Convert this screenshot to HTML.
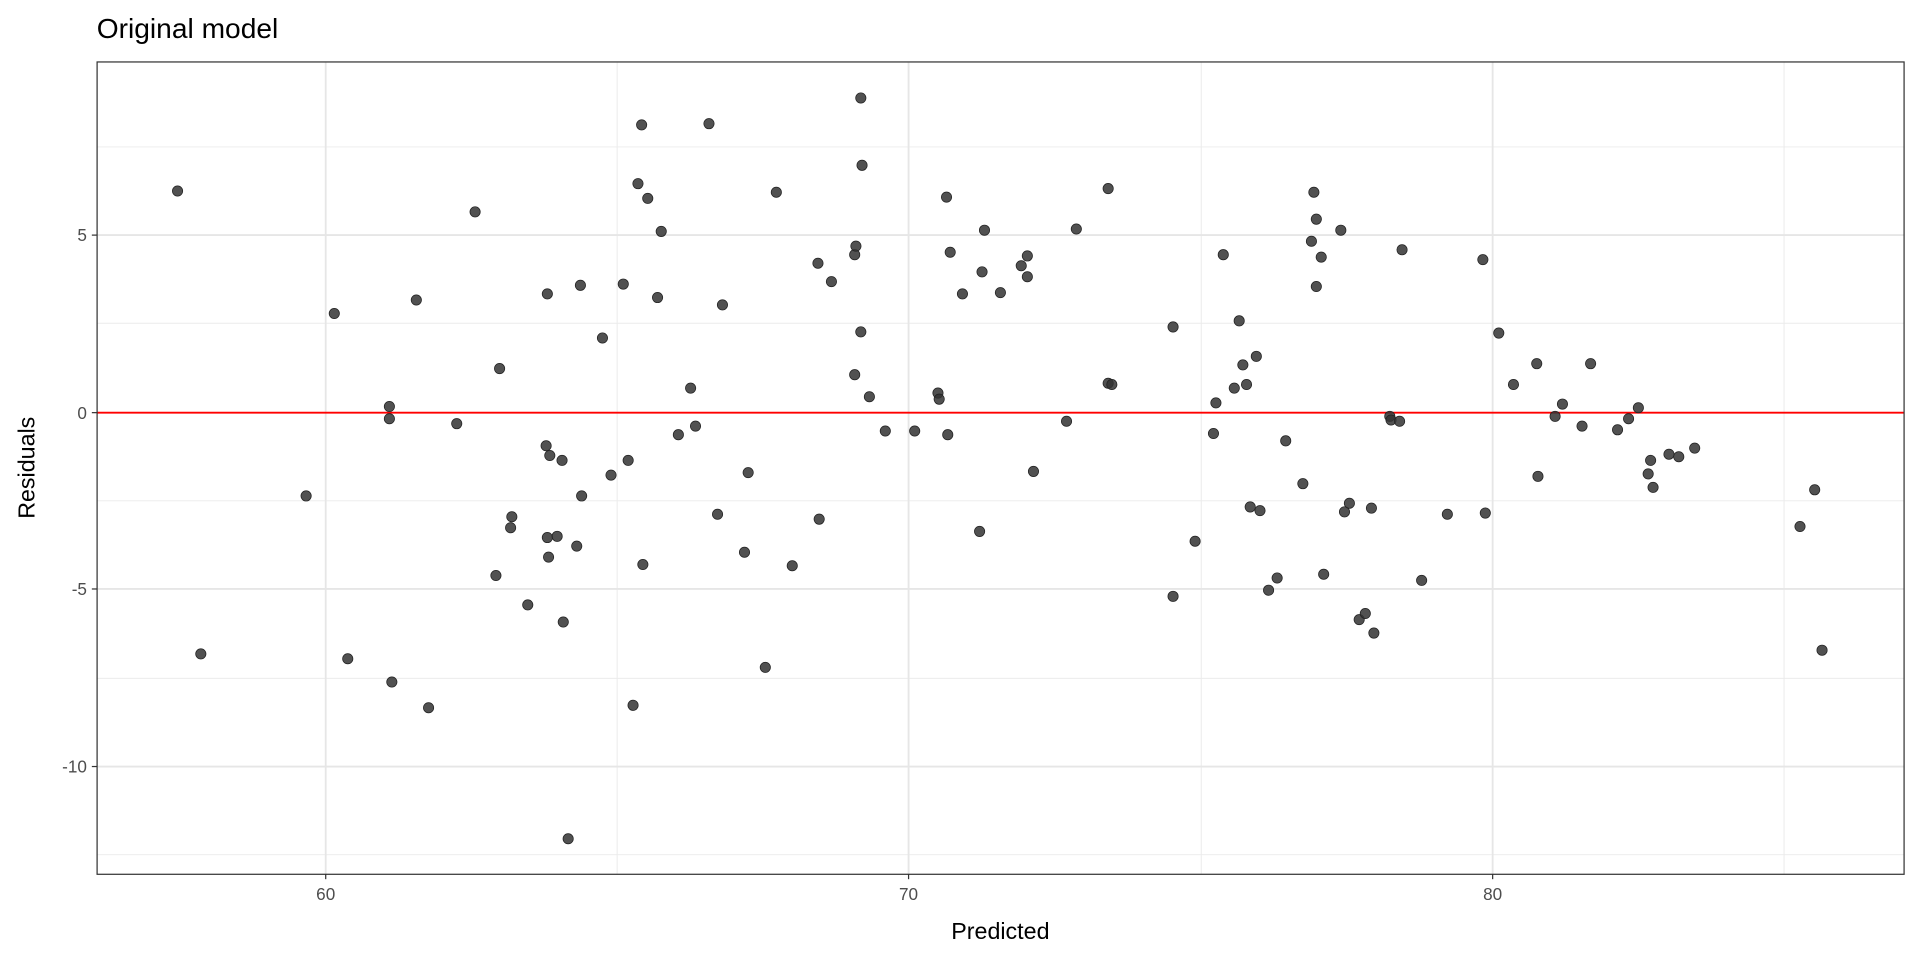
<!DOCTYPE html>
<html><head><style>html,body{margin:0;padding:0;background:#fff}svg{display:block}</style></head>
<body>
<svg xmlns="http://www.w3.org/2000/svg" width="1920" height="960" viewBox="0 0 1568 784" font-family="Liberation Sans, sans-serif">
<rect width="1568" height="784" fill="#fff"/>
<g stroke="#ebebeb" stroke-width="0.8">
<line x1="504" y1="50.5" x2="504" y2="714"/><line x1="981" y1="50.5" x2="981" y2="714"/><line x1="1457" y1="50.5" x2="1457" y2="714"/>
<line x1="79" y1="120" x2="1555" y2="120"/><line x1="79" y1="264" x2="1555" y2="264"/><line x1="79" y1="409" x2="1555" y2="409"/><line x1="79" y1="554" x2="1555" y2="554"/><line x1="79" y1="698" x2="1555" y2="698"/>
</g>
<g stroke="#e6e6e6" stroke-width="1.5">
<line x1="266" y1="50.5" x2="266" y2="714"/><line x1="742" y1="50.5" x2="742" y2="714"/><line x1="1219" y1="50.5" x2="1219" y2="714"/>
<line x1="79" y1="192" x2="1555" y2="192"/><line x1="79" y1="481" x2="1555" y2="481"/><line x1="79" y1="626" x2="1555" y2="626"/>
</g>
<line x1="79" y1="337" x2="1555" y2="337" stroke="#ff0000" stroke-width="1.5"/>
<g fill="#333" fill-opacity="0.85" id="pts"></g>
<rect x="79.3" y="50.6" width="1475.7" height="663.4" fill="none" stroke="#333" stroke-width="1"/>
<g stroke="#333" stroke-width="1">
<line x1="266" y1="714" x2="266" y2="718"/><line x1="742" y1="714" x2="742" y2="718"/><line x1="1219" y1="714" x2="1219" y2="718"/>
<line x1="75" y1="192" x2="79" y2="192"/><line x1="75" y1="337" x2="79" y2="337"/><line x1="75" y1="481" x2="79" y2="481"/><line x1="75" y1="626" x2="79" y2="626"/>
</g>
<g fill="#4d4d4d" font-size="14">
<text x="266" y="735" text-anchor="middle">60</text><text x="742" y="735" text-anchor="middle">70</text><text x="1219" y="735" text-anchor="middle">80</text>
<text x="71" y="197" text-anchor="end">5</text><text x="71" y="342" text-anchor="end">0</text><text x="71" y="486" text-anchor="end">-5</text><text x="71" y="631" text-anchor="end">-10</text>
</g>
<text x="817" y="767" text-anchor="middle" font-size="19" fill="#000">Predicted</text>
<text transform="translate(28,382) rotate(-90)" text-anchor="middle" font-size="19" fill="#000">Residuals</text>
<text x="79" y="31" font-size="23" fill="#000">Original model</text>
</svg>
<script>
var p=[[145,156],[164,534],[250,405],[273,256],[284,538],[318,332],[318,342],[320,557],[340,245],[350,578],[388,173],[373,346],[405,470],[408,301],[418,422],[417,431],[431,494],[447,240],[446,364],[449,372],[447,439],[448,455],[455,438],[459,376],[460,508],[464,685],[471,446],[474,233],[475,405],[492,276],[499,388],[509,232],[513,376],[517,576],[521,150],[524,102],[525,461],[529,162],[537,243],[540,189],[554,355],[564,317],[568,348],[579,101],[586,420],[590,249],[608,451],[611,386],[625,545],[634,157],[647,462],[668,215],[669,424],[679,230],[698,208],[699,201],[698,306],[703,80],[703,271],[704,135],[710,324],[723,352],[747,352],[766,321],[767,326],[773,161],[774,355],[776,206],[786,240],[800,434],[802,222],[804,188],[817,239],[834,217],[839,209],[839,226],[844,385],[871,344],[879,187],[905,154],[905,313],[908,314],[958,267],[958,487],[976,442],[991,354],[993,329],[999,208],[1008,317],[1012,262],[1015,298],[1018,314],[1021,414],[1026,291],[1029,417],[1036,482],[1043,472],[1050,360],[1064,395],[1071,197],[1073,157],[1075,179],[1075,234],[1079,210],[1081,469],[1095,188],[1098,418],[1102,411],[1110,506],[1115,501],[1120,415],[1122,517],[1135,340],[1136,343],[1143,344],[1145,204],[1161,474],[1182,420],[1211,212],[1213,419],[1224,272],[1236,314],[1255,297],[1256,389],[1270,340],[1276,330],[1292,348],[1299,297],[1321,351],[1330,342],[1338,333],[1346,387],[1348,376],[1350,398],[1363,371],[1371,373],[1384,366],[1470,430],[1482,400],[1488,531]];
var g=document.getElementById('pts'),s='';
p.forEach(function(a){s+='<circle cx="'+a[0]+'" cy="'+a[1]+'" r="4.2" stroke="#222" stroke-width="0.6"/>';});
g.innerHTML=s;
</script>
</body></html>
